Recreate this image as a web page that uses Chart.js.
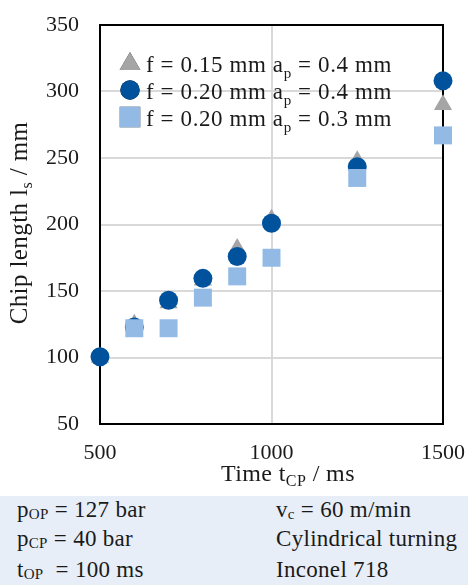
<!DOCTYPE html>
<html>
<head>
<meta charset="utf-8">
<script src="https://cdn.jsdelivr.net/npm/chart.js@4.4.1/dist/chart.umd.min.js"></script>
<style>
  html, body { margin: 0; padding: 0; background: #ffffff; }
  body { width: 468px; height: 585px; position: relative; overflow: hidden; font-family: "Liberation Serif", "DejaVu Serif", serif; }
  #wrap { position: absolute; left: 0; top: 0; width: 468px; height: 496px; }
  #info { position: absolute; left: 0; top: 496px; width: 468px; height: 89px; background: #e7eef8; color: #1a1a1a; font-size: 23px; }
  #info div { position: absolute; white-space: nowrap; line-height: 1; letter-spacing: 0.3px; }
  #info sub { font-size: 15px; vertical-align: -2px; line-height: 0; }
</style>
</head>
<body>
<div id="wrap"><canvas id="c" width="468" height="496"></canvas></div>
<div id="info">
  <div style="left:17px; top:2px;">p<sub>OP</sub> = 127 bar</div>
  <div style="left:17px; top:31px;">p<sub>CP</sub> = 40 bar</div>
  <div style="left:17px; top:62px;">t<sub>OP</sub> &nbsp;= 100 ms</div>
  <div style="left:276px; top:2px;">v<sub>c</sub> = 60 m/min</div>
  <div style="left:276px; top:31px;">Cylindrical turning</div>
  <div style="left:276px; top:62px;">Inconel 718</div>
</div>
<script>
// ---- data ----
const timeA = [500, 600, 700, 800, 900, 1000, 1250, 1500];
const lengthA = [100, 125, 141, 158, 182, 204, 248, 290];   // f = 0.15 mm, ap = 0.4 mm
const timeB = [500, 600, 700, 800, 900, 1000, 1250, 1500];
const lengthB = [100.5, 123, 143, 159.5, 176, 201, 243.5, 308]; // f = 0.20 mm, ap = 0.4 mm
const timeC = [600, 700, 800, 900, 1000, 1250, 1500];
const lengthC = [122, 122, 145, 161, 175, 235, 267];       // f = 0.20 mm, ap = 0.3 mm
const seriesNames = [
  ["f = 0.15 mm a", "p", " = 0.4 mm"],
  ["f = 0.20 mm a", "p", " = 0.4 mm"],
  ["f = 0.20 mm a", "p", " = 0.3 mm"]
];
const xTicks = [500, 1000, 1500];
const yTicks = [50, 100, 150, 200, 250, 300, 350];

const FONT = '"Liberation Serif", "DejaVu Serif", serif';
const TXT = '#1a1a1a';
const colA = '#a5a5a5', colB = '#00529c', colC = '#93bae5';
const toPts = (xs, ys) => xs.map((x, i) => ({x: x, y: ys[i]}));

const styles = [
  {pointStyle: 'triangle', radius: 10.5, color: colA, legendRadius: 12},
  {pointStyle: 'circle', radius: 9.5, color: colB, legendRadius: 9.7},
  {pointStyle: 'rect', radius: 12.7, color: colC, legendRadius: 14.5}
];

function drawRich(ctx, parts, x, y, big, small, drop, spacing) {
  // parts: [text, sub, text]
  ctx.letterSpacing = spacing + 'px';
  ctx.font = big + 'px ' + FONT;
  ctx.fillText(parts[0], x, y); x += ctx.measureText(parts[0]).width;
  ctx.font = small + 'px ' + FONT;
  ctx.fillText(parts[1], x, y + drop); x += ctx.measureText(parts[1]).width;
  ctx.font = big + 'px ' + FONT;
  ctx.fillText(parts[2], x, y); x += ctx.measureText(parts[2]).width;
  return x;
}
function richWidth(ctx, parts, big, small, spacing) {
  ctx.letterSpacing = spacing + 'px';
  ctx.font = big + 'px ' + FONT;
  let w = ctx.measureText(parts[0]).width + ctx.measureText(parts[2]).width;
  ctx.font = small + 'px ' + FONT;
  w += ctx.measureText(parts[1]).width;
  return w;
}

const overlay = {
  id: 'overlay',
  beforeDatasetsDraw(chart) {
    const ctx = chart.ctx, a = chart.chartArea;
    ctx.save();
    ctx.strokeStyle = '#000';
    ctx.lineWidth = 2;
    ctx.beginPath();
    ctx.moveTo(a.left, a.top); ctx.lineTo(a.right, a.top); ctx.lineTo(a.right, a.bottom);
    ctx.stroke();
    ctx.restore();
  },
  afterDraw(chart) {
    const ctx = chart.ctx;
    ctx.save();
    ctx.fillStyle = TXT;
    ctx.textBaseline = 'alphabetic';
    ctx.textAlign = 'left';
    // legend
    const lx = 130, ly0 = 63, dy = 27;
    chart.data.datasets.forEach((ds, i) => {
      const st = styles[i];
      const cy = ly0 + i * dy;
      Chart.helpers.drawPoint(ctx, {pointStyle: st.pointStyle, radius: st.legendRadius, rotation: 0, borderWidth: 0}, lx, i === 0 ? cy + 1 : cy);
      ctx.fillStyle = st.color;
      ctx.fill();
      ctx.fillStyle = TXT;
      drawRich(ctx, seriesNames[i], 146, cy + 9, 23, 15, 6, 0.6);
    });
    // x axis title
    drawRich(ctx, ['Time t', 'CP', ' / ms'], 221, 481, 24, 16, 5, 0.4);
    // y axis title (rotated)
    ctx.translate(27, 0);
    ctx.rotate(-Math.PI / 2);
    const yp = ['Chip length l', 's', ' / mm'];
    const total = richWidth(ctx, yp, 25, 16, 0.4);
    drawRich(ctx, yp, -223 - total / 2, 0, 25, 16, 5, 0.4);
    ctx.restore();
  }
};

const noPad = s => { s.paddingLeft = 0; s.paddingRight = 0; s.paddingTop = 0; s.paddingBottom = 0; };

new Chart(document.getElementById('c'), {
  type: 'scatter',
  data: {
    datasets: [
      {label: 'f = 0.15 mm ap = 0.4 mm', data: toPts(timeA, lengthA), order: 3},
      {label: 'f = 0.20 mm ap = 0.4 mm', data: toPts(timeB, lengthB), order: 2},
      {label: 'f = 0.20 mm ap = 0.3 mm', data: toPts(timeC, lengthC), order: 1}
    ].map((d, i) => Object.assign(d, {
      pointStyle: styles[i].pointStyle,
      pointRadius: styles[i].radius,
      pointHoverRadius: styles[i].radius,
      backgroundColor: styles[i].color,
      borderColor: styles[i].color,
      pointBorderWidth: 0,
      clip: false
    }))
  },
  options: {
    responsive: false,
    animation: false,
    events: [],
    layout: {padding: {top: 25, right: 25, left: 0, bottom: 0}},
    plugins: {legend: {display: false}, tooltip: {enabled: false}},
    scales: {
      x: {
        type: 'linear', min: 500, max: 1500,
        afterBuildTicks: s => { s.ticks = xTicks.map(v => ({value: v})); },
        afterFit: s => { s.height = 72; noPad(s); },
        grid: {color: '#d9d9d9', lineWidth: 2, drawTicks: false},
        border: {display: true, color: '#000', width: 2},
        ticks: {padding: 16, color: TXT, font: {family: FONT, size: 22}, maxRotation: 0,
                callback: v => String(v)}
      },
      y: {
        type: 'linear', min: 50, max: 350,
        afterBuildTicks: s => { s.ticks = yTicks.map(v => ({value: v})); },
        afterFit: s => { s.width = 100; noPad(s); },
        grid: {color: '#d9d9d9', lineWidth: 2, drawTicks: false},
        border: {display: true, color: '#000', width: 2},
        ticks: {padding: 21, color: TXT, font: {family: FONT, size: 22},
                callback: v => String(v)}
      }
    }
  },
  plugins: [overlay]
});
</script>
</body>
</html>
